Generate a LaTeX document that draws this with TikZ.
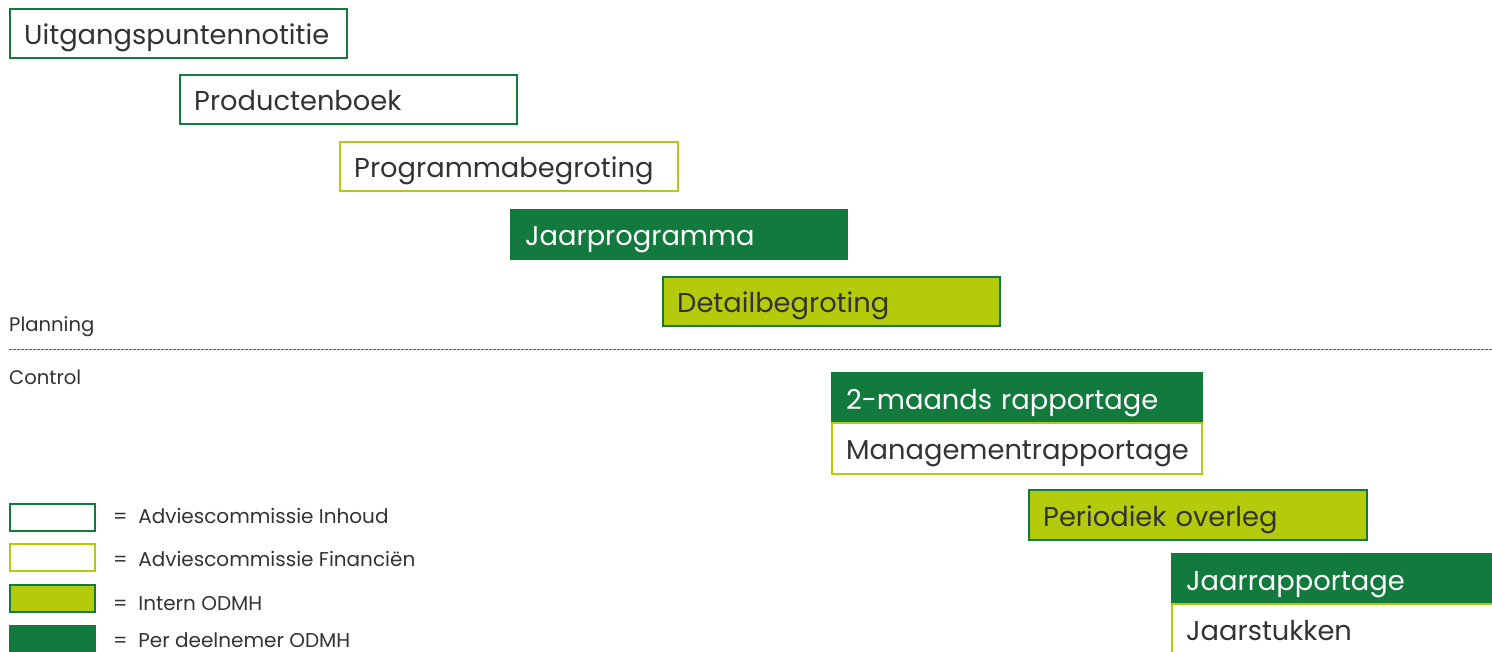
\documentclass[tikz,border=0pt]{standalone}
\usepackage{fontspec}
\setmainfont{Poppins}
\definecolor{dgreen}{HTML}{137A3E}
\definecolor{lime}{HTML}{B4CB0C}
\definecolor{txt}{HTML}{333333}
\tikzset{
  base/.style={rectangle, anchor=north west, minimum height=49pt, inner xsep=14pt, inner ysep=0pt,
    text height=24pt, text depth=2pt,
    align=left, line width=2.4pt, font=\fontsize{27.3}{30}\selectfont, text=txt},
  inhoud/.style={base, draw=dgreen, fill=white},
  fin/.style={base, draw=lime, fill=white},
  intern/.style={base, draw=dgreen, fill=lime},
  deeln/.style={base, draw=dgreen, fill=dgreen, text=white},
  leg/.style={rectangle, anchor=north west, minimum width=85pt, minimum height=27pt, line width=2.2pt, inner sep=0pt},
  legtxt/.style={anchor=west, font=\fontsize{20}{24}\selectfont, text=txt, inner sep=0pt},
  side/.style={anchor=west, font=\fontsize{19.6}{24}\selectfont, text=txt, inner sep=0pt}
}
\begin{document}
\begin{tikzpicture}[x=1pt,y=-1pt]
\useasboundingbox[fill=white] (0,0) rectangle (1492,652);
\node[inhoud, text width=309pt] (a) at (9,8) {Uitgangspuntennotitie};
\node[inhoud, text width=309pt] (b) at (179,74) {Productenboek};
\node[fin, text width=310pt] (c) at (339,141) {Programmabegroting};
\node[deeln, text width=308pt] (d) at (510,209) {Jaarprogramma};
\node[intern, text width=309pt] (e) at (662,276) {Detailbegroting};
\node[side] (pl) at (9,327) {Planning};
\coordinate (l1) at (9,350);
\coordinate (l2) at (1492,350);
\draw[dash pattern=on 2.5pt off 1.5pt, line width=1pt, draw=txt!80] (l1) -- (l2);
\node[side] (co) at (9,377) {Control};
\node[deeln, text width=342pt, minimum height=50pt] (f) at (831,372) {2-maands rapportage};
\node[fin, text width=342pt, minimum height=51pt] (g) at (831,422) {Managementrapportage};
\node[intern, text width=310pt, minimum height=50pt] (h) at (1028,489) {Periodiek overleg};
\node[deeln, text width=310pt, minimum height=50pt] (i) at (1171,553) {Jaarrapportage};
\node[fin, text width=310pt, minimum height=50pt] (j) at (1171,603) {Jaarstukken};
\node[leg, draw=dgreen, fill=white] (k1) at (9,503) {};
\node[leg, draw=lime, fill=white] (k2) at (9,543) {};
\node[leg, draw=dgreen, fill=lime] (k3) at (9,584) {};
\node[leg, draw=dgreen, fill=dgreen] (k4) at (9,625) {};
\node[legtxt] (t1) at (113,516) {=\ \ Adviescommissie Inhoud};
\node[legtxt] (t2) at (113,559) {=\ \ Adviescommissie Financiën};
\node[legtxt] (t3) at (113,604) {=\ \ Intern ODMH};
\node[legtxt] (t4) at (113,640) {=\ \ Per deelnemer ODMH};
\end{tikzpicture}
\end{document}
